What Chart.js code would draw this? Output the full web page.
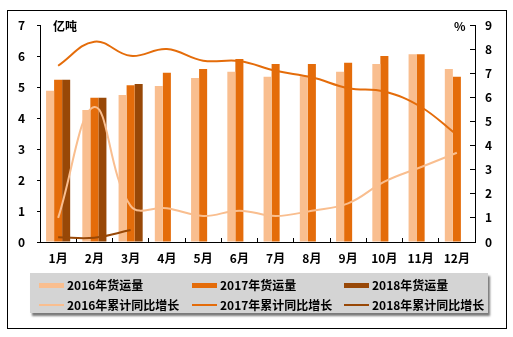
<!DOCTYPE html>
<html>
<head>
<meta charset="utf-8">
<script src="https://cdn.jsdelivr.net/npm/chart.js@4/dist/chart.umd.min.js"></script>
<style>
  html, body { margin: 0; padding: 0; background: #fff; }
  #wrap { position: relative; width: 513px; height: 337px; overflow: hidden;
          font-family: 'Noto Sans CJK SC', 'DejaVu Sans', sans-serif; font-weight: bold; color: #000; }
  #frame { position: absolute; left: 7px; top: 10px; width: 498px; height: 317px; border: 1px solid #000; }
  #chart { position: absolute; left: 0; top: 0; }
  .unit { position: absolute; font-size: 12px; line-height: 14px; }
  #legend { position: absolute; left: 30px; top: 273px; width: 458px; height: 40px;
            background: #d4d4d4; box-shadow: 2px 3px 2px #7a7a7a; }
  .item { position: absolute; height: 16px; font-size: 12px; line-height: 16px; white-space: nowrap; }
  .sw { position: absolute; left: 0; width: 25px; }
  .item span.t { position: absolute; left: 28px; top: 0; }
</style>
</head>
<body>
<div id="wrap">
  <div id="frame"></div>
  <canvas id="chart" width="513" height="337"></canvas>
  <div class="unit" style="left:53px; top:19px;">亿吨</div>
  <div class="unit" style="left:454px; top:19px;">%</div>
  <div id="legend"></div>
</div>
<script>
// Months on the category axis
const months = ['1月','2月','3月','4月','5月','6月','7月','8月','9月','10月','11月','12月'];

// Monthly freight volume (亿吨, left axis)
const freight2016 = [4.88, 4.26, 4.74, 5.03, 5.29, 5.49, 5.33, 5.35, 5.49, 5.74, 6.06, 5.58];
const freight2017 = [5.23, 4.65, 5.06, 5.46, 5.58, 5.90, 5.74, 5.74, 5.78, 6.00, 6.06, 5.33];
const freight2018 = [5.23, 4.65, 5.10, null, null, null, null, null, null, null, null, null];

// Cumulative year-on-year growth (%, right axis)
const growth2016 = [1.0, 5.6, 1.5, 1.4, 1.08, 1.3, 1.08, 1.3, 1.6, 2.5, 3.1, 3.7];
const growth2017 = [7.31, 8.31, 7.72, 8.0, 7.52, 7.51, 7.1, 6.83, 6.38, 6.24, 5.61, 4.44];
const growth2018 = [0.2, 0.18, 0.5, null, null, null, null, null, null, null, null, null];

// Axis ranges
const volumeMax = 7;
const growthMax = 9;

const C16 = '#f9be8f', C17 = '#e46c0a', C18 = '#984807';
const tickFont = { family: "'Noto Sans CJK SC', sans-serif", size: 12, weight: 'bold' };

const legendItems = [
  { label: '2016年货运量', color: C16, kind: 'bar' },
  { label: '2017年货运量', color: C17, kind: 'bar' },
  { label: '2018年货运量', color: C18, kind: 'bar' },
  { label: '2016年累计同比增长', color: C16, kind: 'line' },
  { label: '2017年累计同比增长', color: C17, kind: 'line' },
  { label: '2018年累计同比增长', color: C18, kind: 'line' }
];

// Legend: two rows, three aligned columns
const legend = document.getElementById('legend');
const colX = [9, 162, 314];
legendItems.forEach((it, i) => {
  const row = Math.floor(i / 3), col = i % 3;
  const d = document.createElement('div');
  d.className = 'item';
  d.style.left = colX[col] + 'px';
  d.style.top = (4 + row * 20) + 'px';
  const sw = document.createElement('div');
  sw.className = 'sw';
  sw.style.background = it.color;
  if (it.kind === 'bar') { sw.style.top = '6px'; sw.style.height = '5px'; }
  else { sw.style.top = '7px'; sw.style.height = '2px'; }
  const t = document.createElement('span');
  t.className = 't';
  t.textContent = it.label;
  d.appendChild(sw); d.appendChild(t);
  legend.appendChild(d);
});

const barDs = (label, data, color) => ({
  type: 'bar', label, data, backgroundColor: color, yAxisID: 'y',
  categoryPercentage: 0.665, barPercentage: 1.0, order: 2
});
const lineDs = (label, data, color) => ({
  type: 'line', label, data, borderColor: color, backgroundColor: color, yAxisID: 'y1',
  borderWidth: 2, pointRadius: 0, tension: 0.4, spanGaps: false, order: 1
});

new Chart(document.getElementById('chart'), {
  type: 'bar',
  data: {
    labels: months,
    datasets: [
      lineDs('2016年累计同比增长', growth2016, C16),
      lineDs('2017年累计同比增长', growth2017, C17),
      lineDs('2018年累计同比增长', growth2018, C18),
      barDs('2016年货运量', freight2016, C16),
      barDs('2017年货运量', freight2017, C17),
      barDs('2018年货运量', freight2018, C18)
    ]
  },
  options: {
    responsive: false,
    animation: false,
    devicePixelRatio: 1,
    layout: { padding: { top: 25, left: 0, right: 0, bottom: 0 } },
    plugins: { legend: { display: false }, tooltip: { enabled: false } },
    scales: {
      x: {
        offset: true,
        grid: { display: true, drawOnChartArea: false, drawTicks: true, tickLength: -4, offset: true, color: '#000' },
        border: { display: true, color: '#000', width: 1 },
        ticks: { font: tickFont, color: '#000', padding: 13, maxRotation: 0, autoSkip: false },
        afterFit: s => { s.height = 95; }
      },
      y: {
        position: 'left', min: 0, max: volumeMax,
        grid: { drawOnChartArea: false, drawTicks: true, tickLength: 3, color: '#000' },
        border: { display: true, color: '#000', width: 1 },
        ticks: { stepSize: 1, font: tickFont, color: '#000', padding: 12 },
        afterFit: s => { s.width = 40; }
      },
      y1: {
        position: 'right', min: 0, max: growthMax,
        grid: { drawOnChartArea: false, drawTicks: true, tickLength: -5, color: '#000' },
        border: { display: true, color: '#000', width: 1 },
        ticks: { stepSize: 1, font: tickFont, color: '#000', padding: 15 },
        afterFit: s => { s.width = 38; }
      }
    }
  }
});
</script>
</body>
</html>
